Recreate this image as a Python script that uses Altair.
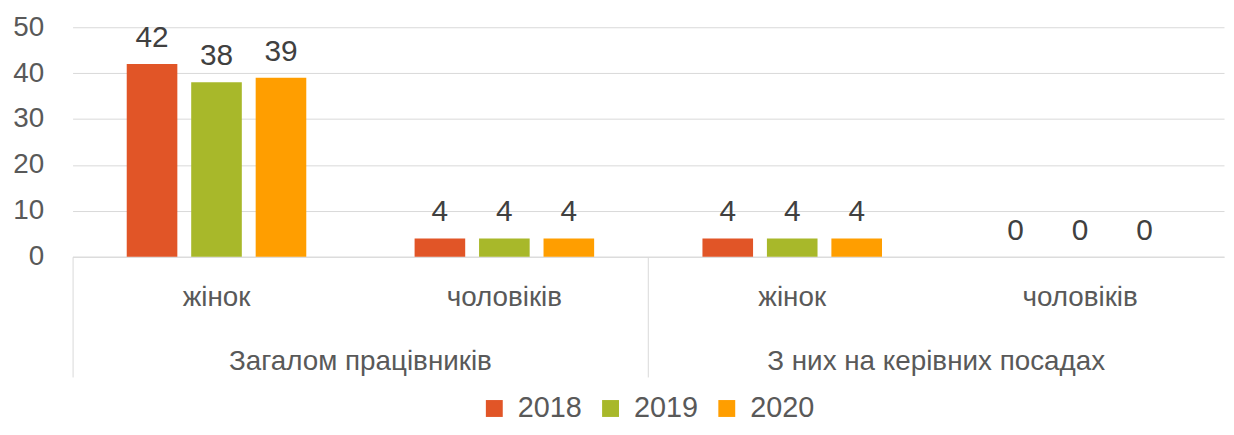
import altair as alt
import pandas as pd

groups = ["Загалом працівників", "З них на керівних посадах"]
subs = ["жінок", "чоловіків"]
years = ["2018", "2019", "2020"]
v2018 = [42, 4, 4, 0]
v2019 = [38, 4, 4, 0]
v2020 = [39, 4, 4, 0]
colors = ["#E15527", "#A8B82A", "#FF9E00"]

FONT = "Liberation Sans Narrow, Arial Narrow, Liberation Sans, sans-serif"
TXT = "#595959"
GRID = "#D9D9D9"

rows = []
keys = []
i = 0
for g in groups:
    for s in subs:
        key = g + "|" + s
        keys.append(key)
        for yr, vals in zip(years, [v2018, v2019, v2020]):
            rows.append({"key": key, "group": g, "sub": s, "year": yr, "value": vals[i]})
        i += 1
df = pd.DataFrame(rows)
gdf = pd.DataFrame({"group": groups})

x = alt.X(
    "key:N", sort=keys,
    scale=alt.Scale(paddingInner=0, paddingOuter=0),
    axis=alt.Axis(title=None, labelExpr="split(datum.label,'|')[1]", labelAngle=0,
                  ticks=False, domainColor=GRID, labelFontSize=28, labelColor=TXT,
                  labelFont=FONT, labelPadding=27, labelLimit=0),
)
xo = alt.XOffset("year:N", sort=years, scale=alt.Scale(paddingInner=0.215, paddingOuter=0.84))
y = alt.Y(
    "value:Q", scale=alt.Scale(domain=[0, 50]),
    axis=alt.Axis(title=None, values=[0, 10, 20, 30, 40, 50], domain=False, ticks=False,
                  gridColor=GRID, labelFontSize=28, labelColor=TXT, labelFont=FONT,
                  labelPadding=29),
)
color = alt.Color(
    "year:N", scale=alt.Scale(domain=years, range=colors),
    legend=alt.Legend(title=None, orient="none", direction="horizontal", legendX=410,
                      legendY=369, symbolType="square", symbolSize=289,
                      symbolStrokeWidth=0, labelFontSize=29, labelFont=FONT,
                      labelColor=TXT, columnPadding=14, labelOffset=9, labelLimit=0),
)

bars = alt.Chart(df).mark_bar().encode(x=x, xOffset=xo, y=y, color=color)
labels = alt.Chart(df).mark_text(baseline="alphabetic", dy=-17, fontSize=30, font=FONT,
                                 color="#404040").encode(x=x, xOffset=xo, y=y, text="value:Q")

gx = alt.X(
    "group:N", sort=groups,
    scale=alt.Scale(type="band", paddingInner=0, paddingOuter=0),
    axis=alt.Axis(orient="bottom", title=None, domain=False, ticks=True, tickSize=121,
                  tickColor=GRID, tickWidth=1, bandPosition=0, labelAngle=0,
                  labelFontSize=28, labelFont=FONT, labelColor=TXT, labelPadding=-30,
                  labelLimit=0),
)
glayer = alt.Chart(gdf).mark_point(opacity=0).encode(x=gx)

chart = (
    alt.layer(alt.layer(bars, labels), glayer)
    .resolve_scale(x="independent")
    .properties(width=1159, height=231,
                padding={"left": 65, "top": 18, "right": 2, "bottom": 170},
                autosize=alt.AutoSizeParams(type="none"))
    .configure_view(stroke=None)
)

chart.save("out.html", embed_options={"renderer": "svg", "actions": False})
